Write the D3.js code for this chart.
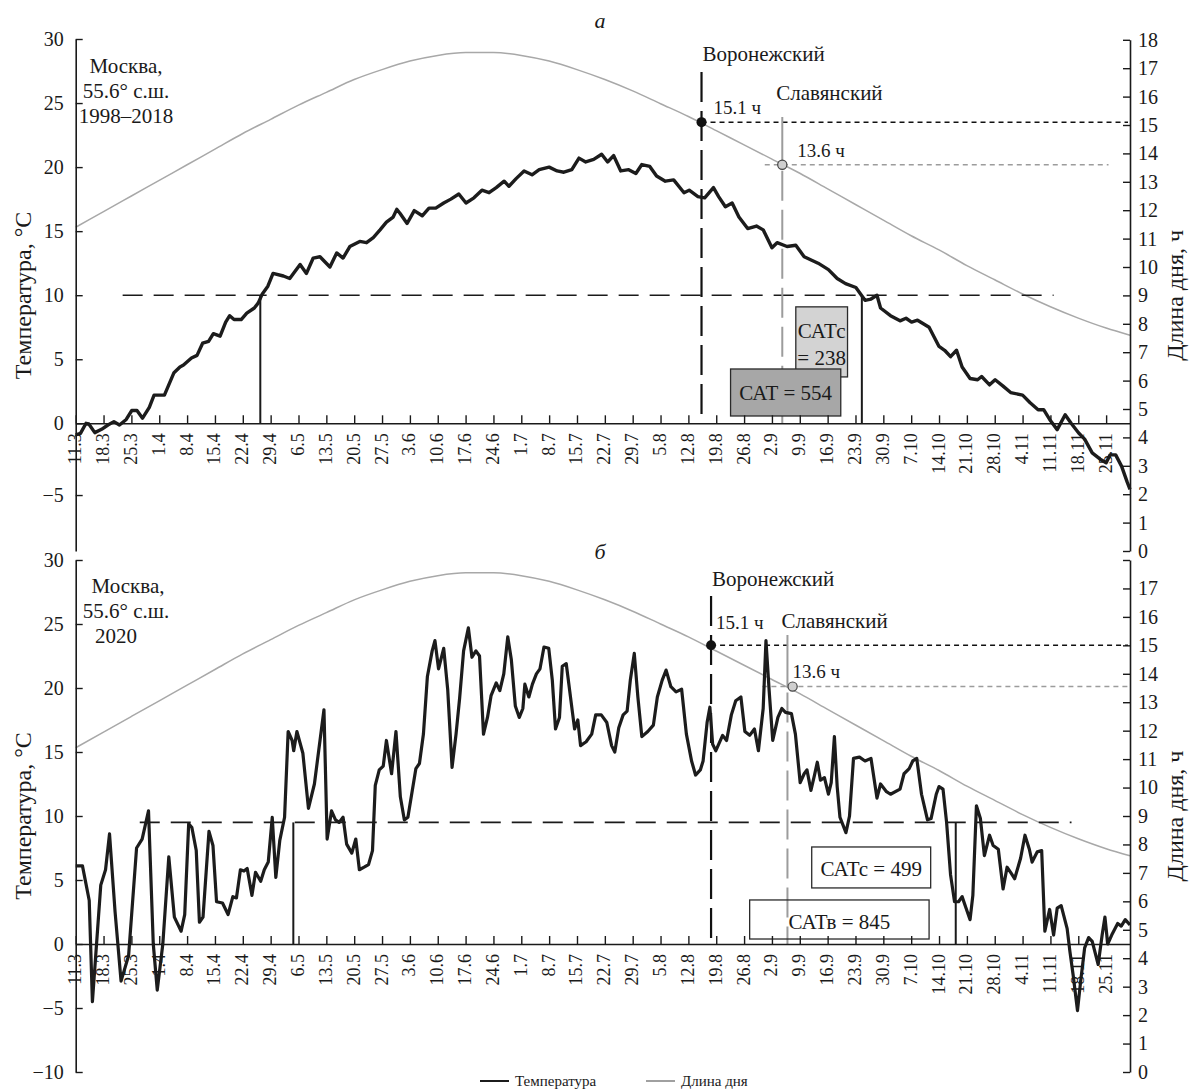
<!DOCTYPE html>
<html>
<head>
<meta charset="utf-8">
<script src="https://cdn.jsdelivr.net/npm/d3@7"></script>
<style>
  body { margin: 0; background: #fff; }
  svg { display: block; }
  text { font-family: "Liberation Serif", "Times New Roman", Times, serif; fill: #1a1a1a; }
</style>
</head>
<body>
<div id="chart"></div>
<script>
// ---- data (days counted from 11 March) ----
const tickLabels = ["11.3","18.3","25.3","1.4","8.4","15.4","22.4","29.4","6.5","13.5","20.5","27.5",
  "3.6","10.6","17.6","24.6","1.7","8.7","15.7","22.7","29.7","5.8","12.8","19.8","26.8","2.9","9.9",
  "16.9","23.9","30.9","7.10","14.10","21.10","28.10","4.11","11.11","18.11","25.11"];
const tickDays = tickLabels.map((_, i) => i * 7);

// day length, hours
const dayLength = [[0,11.4],[7,11.95],[14,12.5],[21,13.05],[28,13.6],[35,14.15],[42,14.7],[49,15.2],
  [56,15.7],[63,16.15],[70,16.6],[77,16.95],[84,17.25],[91,17.45],[98,17.55],[105,17.55],[112,17.45],
  [119,17.25],[126,16.95],[133,16.6],[140,16.2],[147,15.75],[154,15.3],[161,14.8],[168,14.3],[175,13.8],
  [182,13.3],[189,12.75],[196,12.2],[203,11.65],[210,11.1],[217,10.6],[224,10.05],[231,9.55],[238,9.05],
  [245,8.6],[252,8.2],[259,7.85],[265,7.6]];

// mean temperature 1998-2018
const tempMean = [[0,-0.8],[1.2,-0.7],[2.6,0.0],[3.3,-0.05],[4.8,-0.65],[6.5,-0.42],[8.1,-0.12],[9.6,0.13],
  [11,-0.12],[12.7,0.3],[14.1,1.0],[15.4,1.0],[16.8,0.4],[18.5,1.25],[19.7,2.2],[22.3,2.2],[24.7,3.95],
  [26.2,4.4],[27.1,4.55],[29.1,5.1],[30.5,5.3],[31.9,6.25],[33.4,6.4],[34.6,7.0],[36.3,6.8],[37.7,7.9],
  [38.7,8.4],[39.8,8.1],[41.6,8.1],[43,8.6],[44.9,9.0],[45.9,9.4],[46.9,10.1],[48.3,10.7],[49.6,11.7],
  [52.2,11.5],[53.8,11.3],[56.4,12.4],[58,11.7],[59.7,12.9],[61.4,13.0],[63.9,12.2],[65.6,13.3],[67.2,12.9],
  [68.9,13.8],[71.4,14.2],[73.1,14.1],[74.8,14.5],[76.5,15.1],[78.1,15.7],[79.8,16.1],[80.7,16.7],[81.5,16.4],
  [83.3,15.6],[85.1,16.6],[87.1,16.2],[88.8,16.8],[90.5,16.8],[92.5,17.2],[94.3,17.5],[96.3,17.9],[98.1,17.2],
  [100.1,17.6],[102.1,18.2],[103.9,18.0],[105.7,18.4],[107.7,18.9],[108.9,18.5],[110.7,19.1],[112.7,19.7],
  [114.7,19.4],[116.5,19.8],[119,20.0],[121,19.7],[122.7,19.6],[124.7,19.8],[126.5,20.7],[128.2,20.4],
  [130.2,20.6],[132.2,21.0],[133.7,20.4],[135.2,20.9],[137,19.7],[139,19.8],[140.8,19.5],[142.3,20.2],
  [144.3,20.05],[146,19.3],[148.2,18.9],[150.3,19.0],[152.9,18.0],[154.2,18.2],[156.4,17.7],[158.1,17.6],
  [160.3,18.4],[161.6,17.7],[163.3,16.9],[165,17.2],[166.7,16.1],[168.9,15.2],[171.1,15.4],[172.8,15.1],
  [175,13.7],[176.3,14.1],[178.8,13.8],[181,13.9],[183.1,13.0],[186.6,12.5],[189.2,12.0],[191.4,11.3],
  [193.5,10.9],[196.1,10.6],[198.4,9.6],[199.9,9.7],[201.4,10.0],[202.3,9.0],[204.8,8.4],[207.2,8.0],
  [208.7,8.2],[210.1,7.9],[211.6,8.05],[214.5,7.5],[217,6.0],[218.4,5.7],[219.9,5.2],[221.4,5.7],[222.8,4.4],
  [224.8,3.5],[226.7,3.4],[227.7,3.65],[229.7,3.0],[231.1,3.4],[233.1,2.9],[235,2.4],[238,2.2],[239.9,1.6],
  [241.9,1.06],[243.3,1.06],[244.8,0.3],[246.7,-0.44],[248.7,0.67],[250.2,0.0],[252.1,-0.68],[253.6,-1.1],
  [255.5,-2.06],[257.5,-2.5],[259,-2.75],[260,-2.2],[261.4,-2.2],[262.9,-3.0],[264.3,-4.1],[265,-4.6]];

// daily temperature 2020
const temp2020 = [[0,6.1],[1.7,6.1],[3.4,3.4],[4.2,-4.5],[6.3,4.6],[7.5,5.8],[8.5,8.6],[9.9,2.5],[11.4,-2.9],
  [13.3,-0.9],[15.3,7.5],[16.7,8.2],[18.3,10.4],[19.5,0],[20.5,-3.6],[21.9,0],[23.4,6.8],[24.8,2.1],[26.5,1.0],
  [27.4,2.3],[28.4,9.4],[29.2,9.1],[30.3,7.3],[31.1,1.7],[32,2.1],[33.5,8.8],[34.5,7.7],[35.4,3.3],[36.9,3.2],
  [38.3,2.3],[39.5,3.7],[40.4,3.6],[41.4,5.8],[42.3,5.7],[43.1,5.9],[44.3,3.8],[45.2,5.6],[46.5,4.9],[47.4,5.8],
  [48.4,6.4],[49.4,9.9],[50.3,5.2],[51.3,8.1],[52.5,9.9],[53.4,16.6],[54.4,15.9],[54.8,15.1],[55.6,16.6],
  [57.1,14.9],[58.5,10.6],[60,12.5],[62.4,18.3],[63.2,8.2],[64.3,10.4],[65.3,9.7],[66.2,9.5],[67.2,9.9],
  [68.1,7.8],[69.4,7.1],[70.4,8.2],[71.3,5.8],[72.5,6.0],[73.6,6.2],[74.6,7.3],[75.3,12.4],[76.3,13.6],
  [77.3,13.9],[78.1,15.9],[79.4,13.3],[80.5,16.6],[81.6,11.5],[82.6,9.7],[83.5,9.9],[85.5,13.7],[86.4,14.1],
  [87.4,16.4],[88.4,20.9],[89.6,22.9],[90.3,23.7],[91.2,21.5],[92.5,23.1],[93.5,19.9],[94.6,13.8],[95.6,16.4],
  [96.5,19.2],[97.5,22.9],[98.7,24.7],[99.6,22.4],[100.6,22.9],[101.5,22.5],[102.5,16.4],[103.5,17.7],
  [104.4,19.4],[105.7,20.4],[106.6,19.8],[107.6,21.1],[108.6,24.0],[109.5,22.2],[110.5,18.6],[111.5,17.7],
  [112.4,18.4],[112.9,20.3],[113.9,19.3],[114.8,20.3],[115.8,21.1],[116.7,21.5],[117.7,23.2],[118.9,23.1],
  [119.8,20.6],[120.6,16.8],[121.6,17.7],[122.3,21.7],[123.3,21.9],[124.9,18.0],[125.4,16.8],[126.2,17.5],
  [126.9,15.5],[128.3,15.8],[129.7,16.4],[130.7,17.9],[132.1,17.9],[133.5,17.3],[134.7,15.5],[135.5,15.0],
  [136.5,16.9],[137.6,17.9],[138.6,18.2],[139.4,20.6],[140.4,22.7],[141.3,19.3],[142.3,16.2],[143.8,16.6],
  [145.2,17.1],[146.2,19.3],[147.4,20.6],[148.4,21.4],[149.6,20.1],[150.9,19.7],[152.3,19.9],[153.5,16.4],
  [154.8,14.3],[155.8,13.2],[157,13.6],[157.7,14.3],[158.7,17.3],[159.4,18.5],[160.1,15.6],[160.9,15.1],
  [161.6,15.6],[162.6,16.3],[163.6,15.9],[164.8,17.9],[165.9,19.0],[167.2,19.3],[168.2,16.6],[169.4,16.3],
  [170.6,16.8],[171.6,15.1],[172.8,18.4],[173.5,23.7],[174.3,19.8],[175.2,15.9],[176.5,17.7],[177.5,18.4],
  [178.4,18.1],[179.9,18.0],[180.9,16.4],[182.1,12.6],[183.1,13.3],[183.8,13.6],[184.8,12.0],[185.7,13.2],
  [186.4,14.2],[187.2,12.8],[188.2,13.0],[189.2,11.7],[189.9,12.6],[190.7,16.2],[191.4,12.3],[192.1,9.9],
  [193.6,8.7],[194.5,10.0],[195.5,14.5],[197,14.6],[198.4,14.3],[199.9,14.5],[201.4,11.4],[202.3,12.5],
  [203.8,11.9],[204.8,11.7],[207.2,12.1],[208.2,13.3],[209.5,13.7],[210.4,14.3],[211.4,14.5],[212.6,11.7],
  [214.1,9.7],[215,9.8],[216.3,11.7],[217,12.3],[218,12.1],[218.9,9.5],[219.9,5.4],[220.9,3.3],[221.9,3.3],
  [222.8,3.7],[223.8,2.8],[224.8,1.9],[225.5,3.8],[226.4,10.8],[227.4,9.8],[228.4,6.9],[229.7,8.5],[230.6,7.7],
  [231.9,7.4],[233.1,4.3],[234.1,6.0],[235.2,5.5],[236,5.1],[237.5,6.7],[238.6,8.5],[239.7,7.4],[240.4,6.4],
  [241.7,7.2],[242.8,7.3],[243.6,1.0],[244.8,2.7],[245.8,0.7],[246.7,2.8],[247.7,3.0],[249.2,1.2],[249.9,-0.6],
  [250.7,-2.4],[251.8,-5.2],[252.6,-2.9],[253.6,-0.3],[254.6,0.5],[255.5,0.2],[257,-1.6],[258,0.7],[258.7,2.1],
  [259.4,0.0],[260.4,0.7],[261.9,1.6],[262.8,1.4],[263.8,1.9],[265,1.5]];

// annotations
const cultivars = ["Воронежский", "Славянский"];
const cultivarDaysA = [157.3, 177.6];
const cultivarDaysB = [159.7, 178.9];
const dotDaysB = [159.7, 180.2];
const cultivarHoursA = [15.1, 13.6];
const cultivarHoursB = [15.0, 13.55];
const hourLabels = ["15.1 ч", "13.6 ч"];
const catDaysA = [46.4, 197.6];
const catDaysB = [54.7, 221.2];
const thresholds = [10, 9.5];
const placeA = ["Москва,", "55.6° с.ш.", "1998–2018"];
const placeB = ["Москва,", "55.6° с.ш.", "2020"];
const legendNames = ["Температура", "Длина дня"];

// ---- layout ----
const W = 1189, H = 1090;
const svg = d3.select("#chart").append("svg").attr("width", W).attr("height", H);
const x = d3.scaleLinear().domain([0, 265]).range([75.7, 1130]);
const ink = "#1a1a1a", grey = "#9c9c9c";

const panels = [
  {
    yT: d3.scaleLinear().domain([-8.9, 0, 30]).range([551, 423.3, 39]),
    yH: d3.scaleLinear().domain([0, 18]).range([551, 39.8]),
    leftTicks: [-5, 0, 5, 10, 15, 20, 25, 30],
    rightFmt: d => d,
    temp: tempMean, tempWidth: 3.4,
    thr: thresholds[0], thrDays: [11.8, 245.8],
    cat: catDaysA,
    cDays: cultivarDaysA, dDays: cultivarDaysA, cHours: cultivarHoursA,
    vorTop: 72, slaTop: 117, slaLine: [173.2, 259.6],
    letter: "а", letterY: 28, place: placeA, placeX: [126, 126, 126], placeY: [73, 98, 123],
    nameY: [61, 100], hourY: [114, 157], hourDx: [12, 15],
    boxes: [
      { d: [181, 194], t: [9.09, 3.62], fill: "#d3d3d3", lines: ["САТс", "= 238"], ty: [338, 365] },
      { d: [164.6, 192.3], t: [4.24, 0.57], fill: "#a7a7a7", lines: ["САТ = 554"], ty: [400] }
    ]
  },
  {
    yT: d3.scaleLinear().domain([-10, 30]).range([1072, 560]),
    yH: d3.scaleLinear().domain([0, 18]).range([1072, 560]),
    leftTicks: [-10, -5, 0, 5, 10, 15, 20, 25, 30],
    rightFmt: d => d === 18 ? "" : d,
    temp: temp2020, tempWidth: 3.2,
    thr: thresholds[1], thrDays: [16.1, 250.3],
    cat: catDaysB,
    cDays: cultivarDaysB, dDays: dotDaysB, cHours: cultivarHoursB,
    vorTop: 596, slaTop: 635, slaLine: [172.6, 264.4],
    letter: "б", letterY: 559, place: placeB, placeX: [128, 126, 116], placeY: [593, 618, 643],
    nameY: [586, 628], hourY: [629, 678], hourDx: [5, 5],
    boxes: [
      { d: [185, 214.9], t: [7.58, 4.38], fill: "none", lines: ["САТс = 499"], ty: [876] },
      { d: [169.4, 214.5], t: [3.44, 0.39], fill: "none", lines: ["САТв = 845"], ty: [929] }
    ]
  }
];

function styleAxis(g, size) {
  g.attr("font-family", null).attr("font-size", size);
  g.select(".domain").attr("stroke", ink).attr("stroke-width", 1.6);
  g.selectAll(".tick line").attr("stroke", ink).attr("stroke-width", 1.4);
  g.selectAll(".tick text").attr("fill", ink);
}

panels.forEach(p => {
  const g = svg.append("g");
  const y0 = p.yT(0);

  // day length
  g.append("path").datum(dayLength)
    .attr("fill", "none").attr("stroke", "#a8a8a8").attr("stroke-width", 1.5)
    .attr("d", d3.line().x(d => x(d[0])).y(d => p.yH(d[1])).curve(d3.curveMonotoneX));

  // threshold and active temperature period
  g.append("line")
    .attr("x1", x(p.thrDays[0])).attr("x2", x(p.thrDays[1]))
    .attr("y1", p.yT(p.thr)).attr("y2", p.yT(p.thr))
    .attr("stroke", ink).attr("stroke-width", 1.6).attr("stroke-dasharray", "20,11");
  p.cat.forEach(d => {
    g.append("line").attr("x1", x(d)).attr("x2", x(d))
      .attr("y1", p.yT(p.thr)).attr("y2", y0)
      .attr("stroke", ink).attr("stroke-width", 2);
  });

  // cultivars
  const vx = x(p.cDays[0]), vy = p.yH(p.cHours[0]);
  g.append("line").attr("x1", vx).attr("x2", vx).attr("y1", p.vorTop).attr("y2", y0)
    .attr("stroke", "#111").attr("stroke-width", 2.2).attr("stroke-dasharray", "30,9");
  g.append("line").attr("x1", x(p.dDays[0])).attr("x2", x(265) - 2).attr("y1", vy).attr("y2", vy)
    .attr("stroke", "#111").attr("stroke-width", 1.5).attr("stroke-dasharray", "5,4");

  const sx = x(p.cDays[1]), sy = p.yH(p.cHours[1]);
  g.append("line").attr("x1", sx).attr("x2", sx).attr("y1", p.slaTop).attr("y2", sy)
    .attr("stroke", grey).attr("stroke-width", 2);
  g.append("line").attr("x1", sx).attr("x2", sx).attr("y1", sy + 6).attr("y2", y0)
    .attr("stroke", grey).attr("stroke-width", 2).attr("stroke-dasharray", "30,9");
  g.append("line").attr("x1", x(p.slaLine[0])).attr("x2", x(p.slaLine[1])).attr("y1", sy).attr("y2", sy)
    .attr("stroke", grey).attr("stroke-width", 1.5).attr("stroke-dasharray", "5,4");

  // temperature
  g.append("path").datum(p.temp)
    .attr("fill", "none").attr("stroke", "#1c1c1c").attr("stroke-width", p.tempWidth)
    .attr("stroke-linejoin", "round")
    .attr("d", d3.line().x(d => x(d[0])).y(d => p.yT(d[1])));

  // markers
  g.append("circle").attr("cx", x(p.dDays[0])).attr("cy", vy).attr("r", 5).attr("fill", "#111");
  g.append("circle").attr("cx", x(p.dDays[1])).attr("cy", sy).attr("r", 4.6)
    .attr("fill", "#cfcfcf").attr("stroke", "#444").attr("stroke-width", 1.2);

  cultivars.forEach((name, i) => {
    const cx = x(p.cDays[i]);
    g.append("text").attr("x", cx + (i === 0 ? 1 : -6)).attr("y", p.nameY[i])
      .attr("font-size", 21).text(name);
    g.append("text").attr("x", cx + p.hourDx[i]).attr("y", p.hourY[i])
      .attr("font-size", 19).text(hourLabels[i]);
  });

  // boxes
  p.boxes.forEach(b => {
    const bx = x(b.d[0]), bw = x(b.d[1]) - bx, by = p.yT(b.t[0]), bh = p.yT(b.t[1]) - by;
    g.append("rect").attr("x", bx).attr("y", by).attr("width", bw).attr("height", bh)
      .attr("fill", b.fill).attr("stroke", "#2a2a2a").attr("stroke-width", 1.3);
    b.lines.forEach((t, j) => {
      g.append("text").attr("x", bx + bw / 2).attr("y", b.ty[j])
        .attr("text-anchor", "middle").attr("font-size", 21).text(t);
    });
  });

  // place text and panel letter
  p.place.forEach((t, j) => {
    g.append("text").attr("x", p.placeX[j]).attr("y", p.placeY[j])
      .attr("text-anchor", "middle").attr("font-size", 21).text(t);
  });
  g.append("text").attr("x", 600).attr("y", p.letterY).attr("text-anchor", "middle")
    .attr("font-size", 22).attr("font-style", "italic").text(p.letter);

  // axes
  const xa = g.append("g").attr("transform", `translate(0,${y0})`)
    .call(d3.axisBottom(x).tickValues(tickDays).tickSize(-8).tickSizeOuter(0)
      .tickFormat((d, i) => tickLabels[i]));
  styleAxis(xa, 18);
  xa.selectAll(".tick text")
    .attr("transform", "rotate(-90)").attr("text-anchor", "end")
    .attr("x", -10).attr("y", 5).attr("dy", 0);

  const la = g.append("g").attr("transform", `translate(${x(0)},0)`)
    .call(d3.axisLeft(p.yT).tickValues(p.leftTicks).tickSize(-7).tickSizeOuter(0).tickPadding(12));
  styleAxis(la, 20);

  const ra = g.append("g").attr("transform", `translate(${x(265)},0)`)
    .call(d3.axisRight(p.yH).tickValues(d3.range(0, 19)).tickSize(-7).tickSizeOuter(0)
      .tickPadding(8).tickFormat(p.rightFmt));
  styleAxis(ra, 20);

  const [r0, r1] = p.yH.range();
  g.append("text").attr("transform", `translate(31,${(r0 + r1) / 2}) rotate(-90)`)
    .attr("text-anchor", "middle").attr("font-size", 24).text("Температура, °С");
  g.append("text").attr("transform", `translate(1183,${(r0 + r1) / 2}) rotate(-90)`)
    .attr("text-anchor", "middle").attr("font-size", 24).text("Длина дня, ч");
});

// legend
const legend = svg.append("g").attr("transform", "translate(480,1081)");
[["#1c1c1c", 0], ["#a0a0a0", 166]].forEach(([c, dx], i) => {
  legend.append("line").attr("x1", dx).attr("x2", dx + 29).attr("y1", 0).attr("y2", 0)
    .attr("stroke", c).attr("stroke-width", 2);
  legend.append("text").attr("x", dx + 35).attr("y", 5).attr("font-size", 15).text(legendNames[i]);
});
</script>
</body>
</html>
